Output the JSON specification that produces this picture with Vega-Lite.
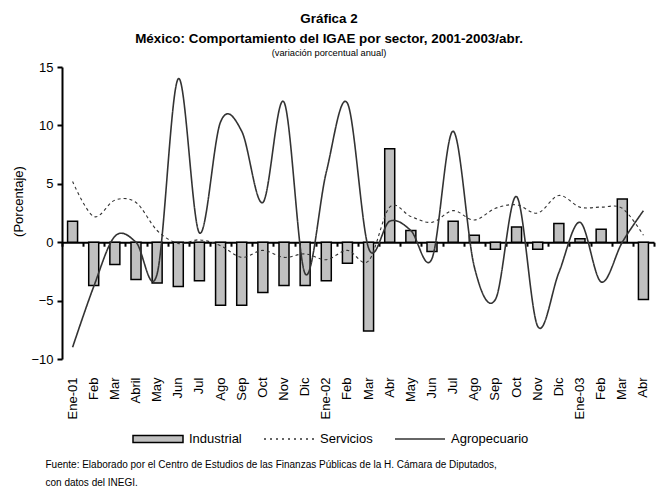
{
  "$schema": "https://vega.github.io/schema/vega-lite/v6.json",
  "autosize": {"type": "none"},
  "width": 592,
  "height": 292,
  "padding": {"left": 62, "top": 67, "right": 3, "bottom": 132},
  "background": "white",
  "config": {"view": {"stroke": null}, "font": "Liberation Sans"},
  "title": {
    "text": ["Gráfica 2", "México: Comportamiento del IGAE  por sector, 2001-2003/abr."],
    "subtitle": "(variación porcentual anual)",
    "fontSize": 13.4,
    "fontWeight": "bold",
    "lineHeight": 20,
    "color": "black",
    "subtitleFontSize": 9.3,
    "subtitleColor": "black",
    "subtitlePadding": 3,
    "anchor": "middle",
    "frame": "group",
    "offset": 3,
    "dx": -29
  },
  "data": {
    "values": [
      {"mes": "Ene-01", "Industrial": 1.8, "Servicios": 5.2, "Agropecuario": -9.0},
      {"mes": "Feb-01", "Industrial": -3.7, "Servicios": 2.2, "Agropecuario": -3.8},
      {"mes": "Mar-01", "Industrial": -1.9, "Servicios": 3.6, "Agropecuario": 0.5},
      {"mes": "Abr-01", "Industrial": -3.2, "Servicios": 3.4, "Agropecuario": 0.0},
      {"mes": "May-01", "Industrial": -3.5, "Servicios": 1.0, "Agropecuario": -2.7},
      {"mes": "Jun-01", "Industrial": -3.8, "Servicios": -0.1, "Agropecuario": 14.0},
      {"mes": "Jul-01", "Industrial": -3.3, "Servicios": 0.2, "Agropecuario": 0.8},
      {"mes": "Ago-01", "Industrial": -5.4, "Servicios": -0.3, "Agropecuario": 10.3},
      {"mes": "Sep-01", "Industrial": -5.4, "Servicios": -1.3, "Agropecuario": 9.5},
      {"mes": "Oct-01", "Industrial": -4.3, "Servicios": -0.7, "Agropecuario": 3.4},
      {"mes": "Nov-01", "Industrial": -3.7, "Servicios": -1.3, "Agropecuario": 12.0},
      {"mes": "Dic-01", "Industrial": -3.7, "Servicios": -1.0, "Agropecuario": -2.7},
      {"mes": "Ene-02", "Industrial": -3.3, "Servicios": -1.5, "Agropecuario": 6.0},
      {"mes": "Feb-02", "Industrial": -1.8, "Servicios": -0.7, "Agropecuario": 11.9},
      {"mes": "Mar-02", "Industrial": -7.6, "Servicios": -1.6, "Agropecuario": -0.5},
      {"mes": "Abr-02", "Industrial": 8.0, "Servicios": 3.0, "Agropecuario": 1.8},
      {"mes": "May-02", "Industrial": 1.0, "Servicios": 2.2, "Agropecuario": 1.0},
      {"mes": "Jun-02", "Industrial": -0.8, "Servicios": 1.7, "Agropecuario": -1.4},
      {"mes": "Jul-02", "Industrial": 1.8, "Servicios": 2.7, "Agropecuario": 9.5},
      {"mes": "Ago-02", "Industrial": 0.6, "Servicios": 1.9, "Agropecuario": -2.1},
      {"mes": "Sep-02", "Industrial": -0.6, "Servicios": 2.9, "Agropecuario": -4.9},
      {"mes": "Oct-02", "Industrial": 1.3, "Servicios": 3.2, "Agropecuario": 3.9},
      {"mes": "Nov-02", "Industrial": -0.6, "Servicios": 2.5, "Agropecuario": -7.2},
      {"mes": "Dic-02", "Industrial": 1.6, "Servicios": 4.0, "Agropecuario": -2.6},
      {"mes": "Ene-03", "Industrial": 0.3, "Servicios": 3.0, "Agropecuario": 1.7},
      {"mes": "Feb-03", "Industrial": 1.1, "Servicios": 3.0, "Agropecuario": -3.4},
      {"mes": "Mar-03", "Industrial": 3.7, "Servicios": 2.9, "Agropecuario": 0.0},
      {"mes": "Abr-03", "Industrial": -4.9, "Servicios": 0.6, "Agropecuario": 2.7}
    ]
  },
  "encoding": {
    "y": {
      "field": "value",
      "type": "quantitative",
      "scale": {"domain": [-10, 15], "nice": false, "zero": false},
      "axis": {
        "title": "(Porcentaje)",
        "values": [-10, -5, 0, 5, 10, 15],
        "grid": false,
        "domainColor": "black",
        "domainWidth": 2,
        "tickColor": "black",
        "tickWidth": 2,
        "tickSize": 5,
        "labelFontSize": 13,
        "labelColor": "black",
        "labelPadding": 4,
        "titleFontSize": 13,
        "titleFontWeight": "normal",
        "titleColor": "black",
        "titleX": -44,
        "titleY": 134,
        "titleAlign": "center",
        "titleBaseline": "middle"
      }
    }
  },
  "layer": [
    {
      "transform": [{"fold": ["Industrial"]}],
      "mark": {"type": "bar", "size": 10, "fill": "#c0c0c0", "stroke": "black", "strokeWidth": 1.5},
      "encoding": {
        "x": {
          "field": "mes",
          "type": "nominal",
          "sort": null,
          "scale": {"paddingInner": 0, "paddingOuter": 0},
          "axis": {
            "orient": "bottom",
            "domain": false,
            "ticks": false,
            "tickSize": 0,
            "labelAngle": -90,
            "labelAlign": "right",
            "labelBaseline": "middle",
            "labelPadding": 18,
            "labelFontSize": 13,
            "labelColor": "black",
            "labelExpr": "datum.value == 'Abr-01' ? 'Abril' : (slice(datum.value, 0, 3) == 'Ene' ? datum.value : slice(datum.value, 0, 3))",
            "title": ["Fuente: Elaborado por el Centro de Estudios de las Finanzas Públicas de la H. Cámara de Diputados,", "con datos del INEGI."],
            "titleFontSize": 10,
            "titleFontWeight": "normal",
            "titleColor": "black",
            "titleAlign": "left",
            "titleAnchor": "start",
            "titleAngle": 0,
            "titleX": -17,
            "titleY": 100,
            "titleBaseline": "top",
            "titleLineHeight": 18
          }
        }
      }
    },
    {
      "transform": [{"fold": ["Servicios", "Agropecuario"]}],
      "mark": {"type": "line", "interpolate": "cardinal", "tension": 0},
      "encoding": {
        "x": {
          "field": "mes",
          "type": "nominal",
          "sort": null,
          "axis": {
            "orient": "bottom",
            "offset": -116.8,
            "domain": true,
            "domainColor": "black",
            "domainWidth": 2,
            "ticks": true,
            "tickBand": "extent",
            "tickSize": 4,
            "tickColor": "black",
            "tickWidth": 2,
            "labels": false,
            "title": null
          }
        },
        "color": {
          "field": "key",
          "type": "nominal",
          "scale": {"domain": ["Industrial", "Servicios", "Agropecuario"], "range": ["black", "#333333", "#333333"]},
          "legend": {
            "orient": "none",
            "legendX": 70,
            "legendY": 346,
            "direction": "horizontal",
            "title": null,
            "symbolSize": 2500,
            "symbolStrokeWidth": 1.5,
            "labelFontSize": 13,
            "labelColor": "black",
            "labelOffset": 5,
            "columnPadding": 19,
            "padding": 0,
            "encode": {
              "symbols": {
                "update": {
                  "shape": {"signal": "datum.value === 'Industrial' ? 'M-1,-0.14H1V0.14H-1Z' : 'M-1,0H1'"},
                  "fill": {"signal": "datum.value === 'Industrial' ? '#c0c0c0' : 'transparent'"},
                  "fillOpacity": {"value": 1},
                  "strokeWidth": {"value": 1.5},
                  "strokeDash": {"signal": "datum.value === 'Servicios' ? [2, 4] : []"},
                  "opacity": {"value": 1}
                }
              }
            }
          }
        },
        "strokeDash": {
          "field": "key",
          "type": "nominal",
          "scale": {"domain": ["Servicios", "Agropecuario"], "range": [[3, 3], [1, 0]]},
          "legend": null
        },
        "strokeWidth": {
          "field": "key",
          "type": "nominal",
          "scale": {"domain": ["Servicios", "Agropecuario"], "range": [1.1, 1.6]},
          "legend": null
        }
      }
    }
  ],
  "resolve": {"axis": {"x": "independent"}}
}
